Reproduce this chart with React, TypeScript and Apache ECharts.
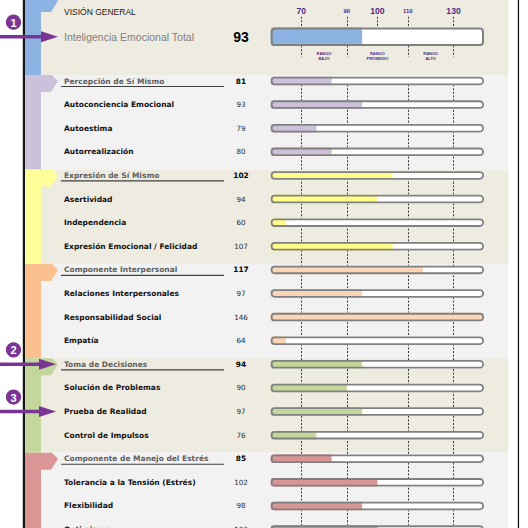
import React, { useEffect, useRef } from 'react';
import * as echarts from 'echarts';

// ---------- data ----------
const overviewTitle = 'VISIÓN GENERAL';
const totalLabel = 'Inteligencia Emocional Total';
const totalScore = 93;
const totalFill = 6; // scale steps filled

const rowLabels = [
  'Percepción de Sí Mismo',
  'Autoconciencia Emocional',
  'Autoestima',
  'Autorrealización',
  'Expresión de Sí Mismo',
  'Asertividad',
  'Independencia',
  'Expresión Emocional / Felicidad',
  'Componente Interpersonal',
  'Relaciones Interpersonales',
  'Responsabilidad Social',
  'Empatía',
  'Toma de Decisiones',
  'Solución de Problemas',
  'Prueba de Realidad',
  'Control de Impulsos',
  'Componente de Manejo del Estrés',
  'Tolerancia a la Tensión (Estrés)',
  'Flexibilidad',
  'Optimismo',
];
const rowScores = [81, 93, 79, 80, 102, 94, 60, 107, 117, 97, 146, 64, 94, 90, 97, 76, 85, 102, 98, 103];
const rowFill = [4, 6, 3, 4, 8, 7, 1, 8, 10, 6, 14, 1, 6, 5, 6, 3, 4, 7, 6, 7];
const rowSection = [1, 1, 1, 1, 2, 2, 2, 2, 3, 3, 3, 3, 4, 4, 4, 4, 5, 5, 5, 5];
const headerRows = [0, 4, 8, 12, 16];

const scaleTickPos = [2, 5, 7, 9, 12];
const scaleTickLabels = ['70', '90', '100', '110', '130'];
const scaleTickMajor = [true, false, true, false, true];
const gridLinePos = [2, 5, 9, 12];
const rangeLabels: Record<string, string> = { '3.5': 'RANGO\nBAJO', '7': 'RANGO\nPROMEDIO', '10.5': 'RANGO\nALTO' };
const AXIS_MAX = 14;

const sectionBand = ['#8DB3E2', '#CCC1DA', '#FFFF99', '#FAC090', '#C3D69B', '#D99694'];
const sectionBar = ['#8DB3E2', '#CCC0DA', '#FFFF88', '#FCD5B4', '#C4D79B', '#DA9694'];
const sectionBg = ['#EEECE1', '#F2F2F2', '#EEECE1', '#F2F2F2', '#EEECE1', '#F2F2F2'];

const callouts = [
  { n: '1', target: -1 },
  { n: '2', target: 12 },
  { n: '3', target: 14 },
];

// ---------- layout ----------
const W = 528;
const H = 528;
const X0 = 270.7;
const XW = 213.3;
const ROW0 = 81;
const ROW_H = 23.61;
const TOTAL_Y = 36.7;
const NAME_X = 64;
const VALUE_X = 241;
const PURPLE = '#7a3594';

const rowY = (i: number) => ROW0 + i * ROW_H;

function lineColors(marks: number[]) {
  return Array.from({ length: AXIS_MAX + 1 }, (_, i) => (marks.includes(i) ? '#3a3a3a' : 'rgba(0,0,0,0)'));
}

function buildGraphics() {
  const els: any[] = [];
  const tops = [-5, ...headerRows.map((r) => rowY(r) - 6)];
  const bgTops = [0, ...headerRows.map((r) => rowY(r) - 6)];
  for (let k = 0; k < 6; k++) {
    const bottom = k < 5 ? bgTops[k + 1] : H;
    els.push({
      type: 'rect', z: -5, silent: true,
      shape: { x: 41, y: bgTops[k], width: 508.3 - 41, height: bottom - bgTops[k] },
      style: { fill: sectionBg[k] },
    });
    const t = tops[k];
    els.push({
      type: 'polygon', z: -4, silent: true,
      shape: { points: [[25, t], [52, t], [58, t + 6], [51, t + 17], [41, t + 17], [41, bottom], [25, bottom]] },
      style: { fill: sectionBand[k] },
    });
  }
  els.push({ type: 'rect', z: 5, silent: true, shape: { x: 22.8, y: 0, width: 2.2, height: H }, style: { fill: '#151515' } });
  els.push({ type: 'rect', z: 5, silent: true, shape: { x: 517.8, y: 0, width: 1.3, height: H }, style: { fill: '#151515' } });
  headerRows.forEach((r) => {
    els.push({
      type: 'line', z: 5, silent: true,
      shape: { x1: 61, y1: rowY(r) + 5.5, x2: 224, y2: rowY(r) + 5.5 },
      style: { stroke: '#404040', lineWidth: 1.2 },
    });
  });
  callouts.forEach((c) => {
    const y = c.target < 0 ? TOTAL_Y : rowY(c.target);
    const tip = c.target < 0 ? 58 : 56;
    els.push({ type: 'line', z: 20, silent: true, shape: { x1: 0, y1: y, x2: tip - 14, y2: y }, style: { stroke: PURPLE, lineWidth: 3.5 } });
    els.push({ type: 'polygon', z: 20, silent: true, shape: { points: [[tip - 17, y - 5.5], [tip, y], [tip - 17, y + 5.5]] }, style: { fill: PURPLE } });
    const cy = y - 14.5;
    els.push({ type: 'circle', z: 20, silent: true, shape: { cx: 13.5, cy, r: 7.6 }, style: { fill: PURPLE } });
    els.push({
      type: 'text', z: 21, silent: true, x: 13.5, y: cy + 0.5,
      style: { text: c.n, fill: '#fff', fontSize: 11, fontWeight: 'bold', fontFamily: 'Liberation Sans', align: 'center', verticalAlign: 'middle' },
    });
  });
  return els;
}

export default function App() {
  const ref = useRef<HTMLDivElement>(null);
  useEffect(() => {
    if (!ref.current) return;
    const chart = echarts.init(ref.current, null, { renderer: 'svg', width: W, height: H });
    const nameStyle = { align: 'left', fontFamily: 'DejaVu Sans', fontWeight: 'bold', fontSize: 7.5, color: '#111' };
    const headerNameStyle = { ...nameStyle, color: '#5e5e5e' };
    const valueStyle = { align: 'center', fontFamily: 'DejaVu Sans', fontWeight: 'normal', fontSize: 7.2, color: '#2a2a2a' };
    const headerValueStyle = { ...valueStyle, fontWeight: 'bold', fontSize: 7.4, color: '#000' };
    const dashed = [2, 1.6];
    const barRowW = 8.5;
    const barTotW = 18.5;

    const option: any = {
      animation: false,
      backgroundColor: '#ffffff',
      title: {
        text: overviewTitle, left: NAME_X, top: 7.5, padding: 0,
        textStyle: { fontFamily: 'Liberation Sans', fontSize: 8.5, fontWeight: 'normal', color: '#1a1a1a' },
      },
      graphic: { elements: buildGraphics() },
      grid: [
        { left: X0, width: XW, top: 16.7, height: 40, outerBoundsMode: 'none' },
        { left: X0, width: XW, top: ROW0, height: 19 * ROW_H, outerBoundsMode: 'none' },
        { left: X0, width: XW, top: 16.7, height: 9.5, outerBoundsMode: 'none' },
      ],
      xAxis: [
        {
          gridIndex: 0, type: 'value', min: 0, max: AXIS_MAX, interval: 1, position: 'top',
          axisLine: { show: false }, axisTick: { show: false }, axisLabel: { show: false },
          splitLine: { show: true, lineStyle: { color: lineColors(gridLinePos), type: dashed, width: 1 } },
        },
        {
          gridIndex: 0, type: 'value', min: 0, max: AXIS_MAX, interval: 3.5, position: 'bottom',
          axisLine: { show: false }, axisTick: { show: false }, splitLine: { show: false },
          axisLabel: {
            show: true, margin: -5.5, showMinLabel: false, showMaxLabel: false,
            formatter: (v: number) => rangeLabels[String(v)] || '',
            fontSize: 4, lineHeight: 4.6, fontWeight: 'bold', fontFamily: 'Liberation Sans', color: '#4b2d83', align: 'center',
          },
        },
        {
          gridIndex: 1, type: 'value', min: 0, max: AXIS_MAX, interval: 1, position: 'top',
          axisLine: { show: false }, axisTick: { show: false }, axisLabel: { show: false },
          splitLine: { show: true, lineStyle: { color: lineColors(gridLinePos), type: dashed, width: 1 } },
        },
        {
          gridIndex: 2, type: 'value', min: 0, max: AXIS_MAX, interval: 1, position: 'top',
          axisLine: { show: false }, axisTick: { show: false },
          splitLine: { show: true, lineStyle: { color: lineColors([7]), type: dashed, width: 1 } },
          axisLabel: {
            show: true, margin: 0.5,
            formatter: (v: number) => {
              const i = scaleTickPos.indexOf(v);
              if (i < 0) return '';
              return `{${scaleTickMajor[i] ? 'big' : 'small'}|${scaleTickLabels[i]}}`;
            },
            rich: {
              big: { fontSize: 8.6, fontWeight: 'bold', fontFamily: 'Liberation Sans', color: '#4b2d83', lineHeight: 10 },
              small: { fontSize: 6, fontWeight: 'bold', fontFamily: 'Liberation Sans', color: '#4b2d83', lineHeight: 10 },
            },
          },
        },
      ],
      yAxis: [
        {
          gridIndex: 0, type: 'category', inverse: true, position: 'left',
          data: [totalLabel],
          axisLine: { show: false }, axisTick: { show: false }, splitLine: { show: false },
          axisLabel: { interval: 0, align: 'left', margin: X0 - NAME_X, fontFamily: 'Liberation Sans', fontSize: 10.5, color: '#808080' },
        },
        {
          gridIndex: 0, type: 'category', inverse: true, position: 'left',
          data: [String(totalScore)],
          axisLine: { show: false }, axisTick: { show: false }, splitLine: { show: false },
          axisLabel: { interval: 0, align: 'center', margin: X0 - VALUE_X, fontFamily: 'Liberation Sans', fontWeight: 'bold', fontSize: 14, color: '#000' },
        },
        {
          gridIndex: 1, type: 'category', inverse: true, position: 'left', boundaryGap: false,
          data: rowLabels.map((l, i) => ({ value: l, textStyle: headerRows.includes(i) ? headerNameStyle : nameStyle })),
          axisLine: { show: false }, axisTick: { show: false }, splitLine: { show: false },
          axisLabel: { interval: 0, margin: X0 - NAME_X, ...nameStyle },
        },
        {
          gridIndex: 1, type: 'category', inverse: true, position: 'left', boundaryGap: false,
          data: rowScores.map((s, i) => ({ value: String(s), textStyle: headerRows.includes(i) ? headerValueStyle : valueStyle })),
          axisLine: { show: false }, axisTick: { show: false }, splitLine: { show: false },
          axisLabel: { interval: 0, margin: X0 - VALUE_X, ...valueStyle },
        },
        { gridIndex: 2, type: 'value', min: 0, max: 1, show: false, splitLine: { show: false } },
      ],
      series: [
        {
          type: 'bar', xAxisIndex: 0, yAxisIndex: 0, barWidth: barTotW, barGap: '-100%', clip: false, silent: true,
          data: [{ value: totalFill, itemStyle: { color: sectionBar[0] } }],
          itemStyle: { borderRadius: [3, 0, 0, 3] },
          showBackground: true, backgroundStyle: { color: '#ffffff', borderRadius: 3 },
        },
        {
          type: 'bar', xAxisIndex: 0, yAxisIndex: 0, barWidth: barTotW, barGap: '-100%', clip: false, silent: true,
          data: [AXIS_MAX],
          itemStyle: { color: 'rgba(0,0,0,0)', borderColor: '#808080', borderWidth: 2, borderRadius: 3 },
        },
        {
          type: 'bar', xAxisIndex: 2, yAxisIndex: 2, barWidth: barRowW, barGap: '-100%', clip: false, silent: true,
          data: rowFill.map((v, i) => ({ value: v, itemStyle: { color: sectionBar[rowSection[i]] } })),
          itemStyle: { borderRadius: [2, 0, 0, 2] },
          showBackground: true, backgroundStyle: { color: '#ffffff', borderRadius: 3 },
        },
        {
          type: 'bar', xAxisIndex: 2, yAxisIndex: 2, barWidth: barRowW, barGap: '-100%', clip: false, silent: true,
          data: rowFill.map(() => AXIS_MAX),
          itemStyle: { color: 'rgba(0,0,0,0)', borderColor: '#808080', borderWidth: 1.8, borderRadius: 3 },
        },
      ],
    };
    chart.setOption(option);
    return () => chart.dispose();
  }, []);
  return <div ref={ref} style={{ position: 'fixed', left: 0, top: 0, width: W, height: H, background: '#fff' }} />;
}
